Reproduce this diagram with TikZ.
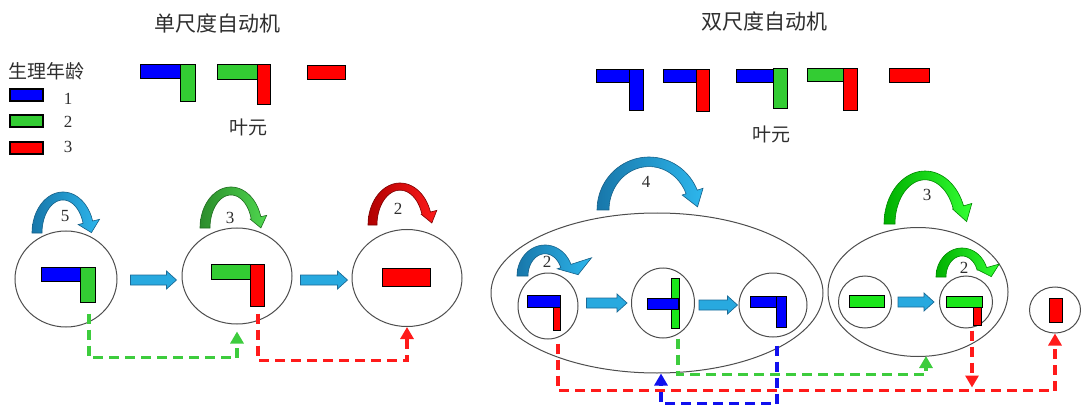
\documentclass[tikz,border=0pt]{standalone}
\usepackage{fontspec}
\setmainfont{Liberation Serif}
\newfontfamily\cjk{Noto Sans CJK SC}
\usetikzlibrary{shapes.geometric,arrows.meta,calc}

\definecolor{leafblue}{HTML}{0000FF}
\definecolor{leafgreen}{HTML}{33CC33}
\definecolor{leaflime}{HTML}{1AE61A}
\definecolor{leafred}{HTML}{FF0000}
\definecolor{textgray}{HTML}{2E2E2E}
\definecolor{ringgray}{HTML}{4D4D4D}
\definecolor{flowfill}{HTML}{28A9DF}
\definecolor{flowedge}{HTML}{1B6A96}
\definecolor{cbL}{HTML}{1877AA}\definecolor{cbR}{HTML}{2DB6EC}\definecolor{cbE}{HTML}{155F87}
\definecolor{cgL}{HTML}{2B8C2B}\definecolor{cgR}{HTML}{4FD84F}\definecolor{cgE}{HTML}{1F6B1F}
\definecolor{crL}{HTML}{B00000}\definecolor{crR}{HTML}{FF1A1A}\definecolor{crE}{HTML}{7A0000}
\definecolor{clL}{HTML}{00B000}\definecolor{clR}{HTML}{33FF33}\definecolor{clE}{HTML}{008800}
\definecolor{dashgreen}{HTML}{3DCC3D}
\definecolor{dashred}{HTML}{FF1A1A}
\definecolor{dashblue}{HTML}{1010EE}

% head of a curled self-loop arrow: inner wing, outer wing, length
\newcommand\setcurlhead[3]{\def\headIn{#1}\def\headOut{#2}\def\headLen{#3}}
% curled arrow: style, centre x, base y, outer x radius, outer y radius, band width, end angle
\newcommand\curlarrow[7]{%
  \pgfmathsetmacro\cRxi{#4-#6}%
  \pgfmathsetmacro\cRyi{#5-0.8*#6}%
  \coordinate (cPo) at ({#2+#4*cos(#7)},{#3-#5*sin(#7)});
  \coordinate (cPi) at ({#2+\cRxi*cos(#7)},{#3-\cRyi*sin(#7)});
  \coordinate (cM) at ($(cPo)!0.5!(cPi)$);
  \coordinate (cWo) at ($(cM)!\headOut pt!(cPo)$);
  \coordinate (cWi) at ($(cM)!\headIn pt!(cPi)$);
  \coordinate (cBc) at ($(cWo)!0.5!(cWi)$);
  \coordinate (cTip) at ($(cBc)!\headLen pt!-90:(cWo)$);
  \draw[#1] plot[domain=180:#7,samples=40] ({#2+#4*cos(\x)},{#3-#5*sin(\x)})
    -- (cWo) -- (cTip) -- (cWi)
    -- plot[domain=#7:180,samples=40] ({#2+\cRxi*cos(\x)},{#3-\cRyi*sin(\x)}) -- cycle;
}
% straight block arrow between two points (height taken from the start)
\newcommand\blockarrow[2]{%
  \filldraw[flowarrow] let \p1=(#1), \p2=(#2) in
    (\x1,\y1+5pt) -- (\x2-10pt,\y1+5pt) -- (\x2-10pt,\y1+9pt) -- (\x2,\y1)
    -- (\x2-10pt,\y1-9pt) -- (\x2-10pt,\y1-5pt) -- (\x1,\y1-5pt) -- cycle;
}

\begin{document}
\begin{tikzpicture}[x=1pt,y=-1pt,
  heading/.style={font=\cjk\fontsize{21}{24}\selectfont,text=textgray,inner sep=0},
  cjklabel/.style={font=\cjk\fontsize{19}{22}\selectfont,text=textgray,inner sep=0},
  num/.style={font=\fontsize{17}{20}\selectfont,text=textgray,inner sep=0},
  leaf/.style={draw=black,line width=0.7},
  keyleaf/.style={draw=black,line width=1.8},
  state/.style={ellipse,draw=ringgray,line width=1,inner sep=0},
  flowarrow/.style={fill=flowfill,draw=flowedge,line width=0.7},
  curlblue/.style={left color=cbL,right color=cbR,draw=cbE,line width=0.6},
  curlgreen/.style={left color=cgL,right color=cgR,draw=cgE,line width=0.6},
  curlred/.style={left color=crL,right color=crR,draw=crE,line width=0.6},
  curllime/.style={left color=clL,right color=clR,draw=clE,line width=0.6},
  dashlink/.style={line width=3.5,dash pattern=on 10pt off 6pt,-{Triangle[width=13pt,length=12pt]}},
]
\useasboundingbox (0,0) rectangle (1081,406);

% headings
\node[heading] (titleL) at (217,24) {单尺度自动机};
\node[heading] (titleR) at (764,22) {双尺度自动机};

% legend of physiological age
\node[cjklabel] (agekey) at (47,71) {生理年龄};
\filldraw[keyleaf,fill=leafblue] (10,89) rectangle (43,101);
\filldraw[keyleaf,fill=leafgreen] (10,115) rectangle (43,127);
\filldraw[keyleaf,fill=leafred] (10,142) rectangle (43,154);
\node[num] (age1) at (68,99) {1};
\node[num] (age2) at (68,122) {2};
\node[num] (age3) at (68,147) {3};

% phytomer types, single scale
\filldraw[leaf,fill=leafblue] (140,64) rectangle (180,78);
\filldraw[leaf,fill=leafgreen] (180,64) rectangle (195,101);
\filldraw[leaf,fill=leafgreen] (217,64) rectangle (257,79);
\filldraw[leaf,fill=leafred] (257,64) rectangle (270,104);
\filldraw[leaf,fill=leafred] (307,65) rectangle (345,79);
\node[cjklabel] (phyL) at (248,127) {叶元};

% phytomer types, dual scale
\filldraw[leaf,fill=leafblue] (596,69) rectangle (629,82);
\filldraw[leaf,fill=leafblue] (629,69) rectangle (643,110);
\filldraw[leaf,fill=leafblue] (663,69) rectangle (696,82);
\filldraw[leaf,fill=leafred] (696,69) rectangle (709,111);
\filldraw[leaf,fill=leafblue] (736,69) rectangle (773,82);
\filldraw[leaf,fill=leafgreen] (773,68) rectangle (787,108);
\filldraw[leaf,fill=leafgreen] (807,68) rectangle (845,81);
\filldraw[leaf,fill=leafred] (843,68) rectangle (857,110);
\filldraw[leaf,fill=leafred] (889,68) rectangle (929,82);
\node[cjklabel] (phyR) at (771,134) {叶元};

% single-scale automaton states
\node[state,minimum width=102,minimum height=96] (e1) at (66,279) {};
\node[state,minimum width=110,minimum height=96] (e2) at (237,276) {};
\node[state,minimum width=110,minimum height=97] (e3) at (407,278) {};
\filldraw[leaf,fill=leafblue] (41,267) rectangle (80,281);
\filldraw[leaf,fill=leafgreen] (80,267) rectangle (95,302);
\filldraw[leaf,fill=leafgreen] (211,264) rectangle (250,279);
\filldraw[leaf,fill=leafred] (250,264) rectangle (264,306);
\filldraw[leaf,fill=leafred] (382,268) rectangle (430,286);

% dual-scale automaton: macro states
\node[state,minimum width=332,minimum height=160] (A) at (657,293) {};
\node[state,minimum width=180,minimum height=129] (B) at (918,292) {};
\node[state,minimum width=51,minimum height=46] (C) at (1055,310) {};
% micro states
\node[state,minimum width=60,minimum height=66] (c1) at (548,306) {};
\node[state,minimum width=63,minimum height=70] (c2) at (663,303) {};
\node[state,minimum width=68,minimum height=64] (c3) at (773,305) {};
\node[state,minimum width=53,minimum height=52] (c4) at (865,302) {};
\node[state,minimum width=53,minimum height=52] (c5) at (966,302) {};
\filldraw[leaf,fill=leafblue] (527,295) rectangle (560,307);
\filldraw[leaf,fill=leafred] (553,307) rectangle (560,330);
\filldraw[leaf,fill=leaflime] (671,278) rectangle (679,328);
\filldraw[leaf,fill=leafblue] (647,298) rectangle (678,309);
\filldraw[leaf,fill=leafblue] (750,296) rectangle (785,307);
\filldraw[leaf,fill=leafblue] (776,296) rectangle (786,327);
\filldraw[leaf,fill=leaflime] (849,295) rectangle (884,307);
\filldraw[leaf,fill=leaflime] (946,296) rectangle (982,307);
\filldraw[leaf,fill=leafred] (973,307) rectangle (981,325);
\filldraw[leaf,fill=leafred] (1049,298) rectangle (1062,322);

% transitions
\blockarrow{$(e1.east)+(13,1)$}{$(e2.west)+(-5,0)$}
\blockarrow{$(e2.east)+(8,4)$}{$(e3.west)+(-4,0)$}
\blockarrow{$(c1.east)+(8,-3)$}{$(c2.west)+(-4,0)$}
\blockarrow{$(c2.east)+(4,2)$}{$(c3.west)+(-1,0)$}
\blockarrow{$(c4.east)+(6,0)$}{$(c5.west)+(-5,0)$}

% self loops with repetition counts
\setcurlhead{10}{12}{11}\curlarrow{curlblue}{63}{233}{31}{41}{10}{17}
\node[num] (n5) at (65,216) {5};
\setcurlhead{6}{11}{11}\curlarrow{curlgreen}{231}{228}{31}{41}{10}{16}
\node[num] (n3) at (230,218) {3};
\setcurlhead{5}{11}{11}\curlarrow{curlred}{400}{225}{32}{42}{9}{18}
\node[num] (n2) at (398,209) {2};
\setcurlhead{10}{12}{16}\curlarrow{curlblue}{649}{210}{52}{53}{12}{22}
\node[num] (n4) at (646,182) {4};
\setcurlhead{9}{27}{12}\curlarrow{curlblue}{545}{276}{28}{31}{11}{22}
\node[num] (n2a) at (547,262) {2};
\setcurlhead{6}{14}{16}\curlarrow{curllime}{925}{224}{41}{53}{11}{20}
\node[num] (n3b) at (927,195) {3};
\setcurlhead{4}{18}{10}\curlarrow{curllime}{962}{277}{26}{29}{10}{19}
\node[num] (n2b) at (964,268) {2};

% dashed links between states
\draw[dashlink,draw=dashgreen] ($(e1.south)+(23,-14)$) -- ++(0,44) -| ($(e2.south)+(0,7)$);
\draw[dashlink,draw=dashred] ($(e2.south)+(21,-11)$) -- ++(0,47) -| (e3.south);
\draw[dashlink,draw=dashred] ($(c1.south)+(10,4)$) -- ++(0,47) -| (C.south);
\draw[dashlink,draw=dashgreen] ($(c2.south)+(15,0)$) -- ++(0,36) -| ($(B.south)+(8,-1)$);
\draw[dashlink,draw=dashblue] ($(c3.south)+(4,8)$) -- ++(0,58) -| ($(A.south)+(4,0)$);
\coordinate (c5drop) at ($(c5.south)+(6,59)$);
\draw[dashlink,draw=dashred] ($(c5.south)+(6,2)$) -- (c5drop);
\end{tikzpicture}
\end{document}
